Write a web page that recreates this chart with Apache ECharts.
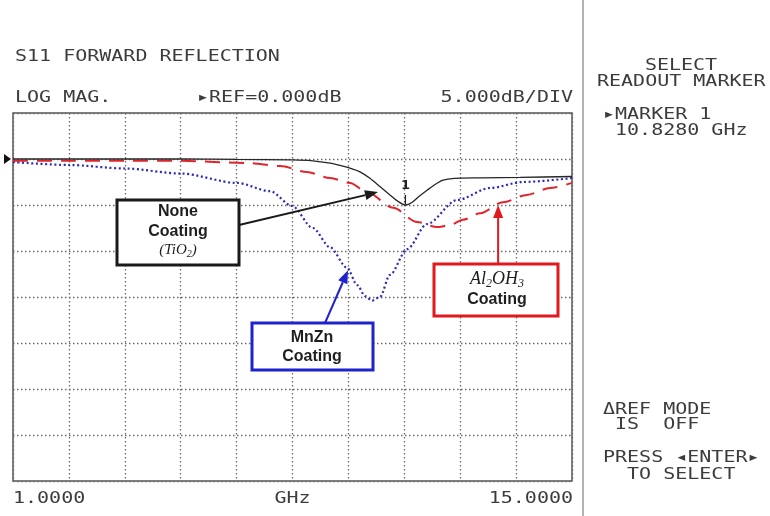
<!DOCTYPE html>
<html>
<head>
<meta charset="utf-8">
<script src="https://cdn.jsdelivr.net/npm/echarts@6/dist/echarts.min.js"></script>
<style>
  html, body { margin: 0; padding: 0; background: #fff; }
  #chart { width: 770px; height: 516px; }
</style>
</head>
<body>
<div id="chart"></div>
<script>
// S11 forward reflection, log magnitude, 5 dB/div, reference 0 dB
const startGHz = 1;
const stopGHz = 15;
const topDb = 5;
const bottomDb = -35;
const dbPerDiv = 5;
const refDb = 0;

// Uncoated sample (TiO2) - solid trace
const noneFreq = [1.0, 2.4, 3.8, 5.2, 6.6, 8.0, 8.51, 8.94, 9.19, 9.44, 9.69, 9.94, 10.19, 10.44, 10.64, 10.828, 11.0, 11.19, 11.37, 11.56, 11.77, 12.05, 12.7, 13.7, 15.0];
const noneDb   = [0, 0, 0, 0, -0.05, -0.1, -0.2, -0.45, -0.7, -1.0, -1.4, -2.1, -3.0, -3.9, -4.6, -5.0, -4.7, -4.0, -3.4, -2.8, -2.3, -2.1, -2.05, -2.0, -1.9];

// Al2OH3 coating - dashed trace
const alFreq = [1.0, 2.4, 3.8, 5.2, 6.86, 7.69, 8.36, 8.94, 9.44, 9.87, 10.52, 11.12, 11.62, 11.94, 12.27, 12.7, 13.27, 13.87, 14.45, 15.0];
const alDb   = [-0.2, -0.2, -0.2, -0.2, -0.43, -0.76, -1.41, -2.07, -2.6, -3.6, -5.3, -6.85, -7.4, -7.2, -6.6, -5.9, -4.7, -3.9, -3.15, -2.6];

// MnZn coating - dotted trace
const mnznFreq = [1.0, 2.4, 3.8, 5.2, 6.61, 7.44, 7.99, 8.51, 8.94, 9.37, 9.62, 9.82, 9.99, 10.19, 10.44, 10.87, 11.37, 12.12, 12.95, 13.77, 15.0];
const mnznDb   = [-0.33, -0.65, -1.03, -1.58, -2.6, -3.5, -5.1, -7.5, -9.6, -11.85, -13.7, -14.9, -15.4, -15.0, -12.6, -9.8, -7.07, -4.46, -3.15, -2.5, -2.07];

// Marker 1
const markerGHz = 10.828;
const markerDb = -5.0;

// Screen text
const titleText = 'S11 FORWARD REFLECTION';
const formatText = 'LOG MAG.';
const refText = '\u25B8REF=0.000dB';
const scaleText = '5.000dB/DIV';
const startLabel = '1.0000';
const unitLabel = 'GHz';
const stopLabel = '15.0000';
const menuLines = ['SELECT', 'READOUT MARKER'];
const markerLines = ['\u25B8MARKER 1', ' 10.8280 GHz'];
const modeLines = ['\u0394REF MODE', ' IS  OFF'];
const pressLines = ['PRESS \u25C2ENTER\u25B8', '  TO SELECT'];

const pairs = (xs, ys) => xs.map((x, i) => [x, ys[i]]);

const chart = echarts.init(document.getElementById('chart'), null, { renderer: 'canvas' });

const gridColor = '#6a6a6a';
const dotted = { color: gridColor, width: 1.3, type: [1.5, 2.5] };

chart.setOption({
  animation: false,
  backgroundColor: '#ffffff',
  grid: {
    left: 13, top: 113, right: 198, bottom: 35,
    show: true, borderColor: '#555', borderWidth: 1.5, backgroundColor: 'transparent'
  },
  xAxis: [
    {
      type: 'value', min: startGHz, max: stopGHz,
      axisLine: { show: false }, axisTick: { show: false },
      axisLabel: { show: false }, splitLine: { show: false }
    },
    {
      // division ruler for the vertical graticule
      type: 'value', min: 0, max: 10, interval: 1, position: 'top',
      axisLine: { show: false }, axisTick: { show: false },
      axisLabel: { show: false }, splitLine: { show: true, lineStyle: dotted }
    }
  ],
  yAxis: {
    type: 'value', min: bottomDb, max: topDb, interval: dbPerDiv,
    axisLine: { show: false }, axisTick: { show: false },
    axisLabel: { show: false }, splitLine: { show: true, lineStyle: dotted }
  },
  series: [
    {
      name: 'MnZn', type: 'line', xAxisIndex: 0, data: pairs(mnznFreq, mnznDb),
      showSymbol: false, smooth: 0.3, smoothMonotone: 'x',
      lineStyle: { color: '#2b2bb8', width: 2.2, type: [2, 2.6] }, z: 3
    },
    {
      name: 'Al2OH3', type: 'line', xAxisIndex: 0, data: pairs(alFreq, alDb),
      showSymbol: false, smooth: 0.3, smoothMonotone: 'x',
      lineStyle: { color: '#e2242a', width: 2, type: [15, 9] }, z: 4
    },
    {
      name: 'None', type: 'line', xAxisIndex: 0, data: pairs(noneFreq, noneDb),
      showSymbol: false, smooth: 0.25,
      lineStyle: { color: '#262626', width: 1.3 }, z: 5
    }
  ]
});

const px = (f, db) => chart.convertToPixel({ xAxisIndex: 0, yAxisIndex: 0 }, [f, db]);

// wide monospaced instrument lettering
const MONO_FONT = '16px "DejaVu Sans Mono"';
const MONO_SX = 1.25;
function mono(text, x, y, align) {
  return {
    type: 'text', x: x, y: y, scaleX: MONO_SX, z: 20,
    style: {
      text: text, font: MONO_FONT, fill: '#3c3c3c',
      align: align || 'left', textAlign: align || 'left',
      verticalAlign: 'middle', textVerticalAlign: 'middle'
    }
  };
}

function label(text, x, y, font, color) {
  return {
    type: 'text', x: x, y: y, z: 40,
    style: {
      text: text, font: font, fill: color || '#1e1e1e',
      align: 'center', textAlign: 'center',
      verticalAlign: 'middle', textVerticalAlign: 'middle'
    }
  };
}

// chemical formula with lowered subscripts, centred on cx
const measureCtx = document.createElement('canvas').getContext('2d');
function formula(parts, cx, cy, mainFont, subFont, subDrop) {
  const widths = parts.map(p => { measureCtx.font = p.sub ? subFont : mainFont; return measureCtx.measureText(p.t).width; });
  const total = widths.reduce((a, b) => a + b, 0);
  let x = cx - total / 2;
  return parts.map((p, i) => {
    const el = {
      type: 'text', x: x, y: cy + (p.sub ? subDrop : 0), z: 40,
      style: {
        text: p.t, font: p.sub ? subFont : mainFont, fill: '#1e1e1e',
        align: 'left', textAlign: 'left',
        verticalAlign: 'middle', textVerticalAlign: 'middle'
      }
    };
    x += widths[i];
    return el;
  });
}

function box(x, y, w, h, color) {
  return {
    type: 'rect', z: 30,
    shape: { x: x, y: y, width: w, height: h },
    style: { fill: '#ffffff', stroke: color, lineWidth: 3 }
  };
}

function arrow(from, to, color, width, headLen, headHalf) {
  const dx = to[0] - from[0], dy = to[1] - from[1];
  const len = Math.hypot(dx, dy);
  const ux = dx / len, uy = dy / len;
  const bx = to[0] - ux * headLen, by = to[1] - uy * headLen;
  const nx = -uy, ny = ux;
  return [
    {
      type: 'line', z: 35,
      shape: { x1: from[0], y1: from[1], x2: bx, y2: by },
      style: { stroke: color, lineWidth: width }
    },
    {
      type: 'polygon', z: 35,
      shape: { points: [[to[0], to[1]], [bx + nx * headHalf, by + ny * headHalf], [bx - nx * headHalf, by - ny * headHalf]] },
      style: { fill: color }
    }
  ];
}

const refY = px(startGHz, refDb)[1];
const plotLeft = px(startGHz, refDb)[0];
const plotRight = px(stopGHz, refDb)[0];
const mk = px(markerGHz, markerDb);

const boldFont = 'bold 16px "Liberation Sans"';
const black = '#1a1a1a', blue = '#1f23cc', red = '#e0191f';

const elements = [
  // header and footer lettering
  mono(titleText, 15, 57),
  mono(formatText, 15, 98),
  mono(refText, 197, 98),
  mono(scaleText, plotRight + 1, 98, 'right'),
  mono(startLabel, plotLeft, 499),
  mono(unitLabel, (plotLeft + plotRight) / 2, 499, 'center'),
  mono(stopLabel, plotRight + 1, 499, 'right'),

  // softkey panel
  mono(menuLines[0], 681, 66, 'center'),
  mono(menuLines[1], 597, 82),
  mono(markerLines[0], 603, 115),
  mono(markerLines[1], 603, 131),
  mono(modeLines[0], 603, 410),
  mono(modeLines[1], 603, 425),
  mono(pressLines[0], 603, 458),
  mono(pressLines[1], 603, 475),

  // panel divider
  {
    type: 'line', z: 10,
    shape: { x1: 583, y1: 0, x2: 583, y2: 516 },
    style: { stroke: '#9a9a9a', lineWidth: 1.5 }
  },

  // reference level pointer
  {
    type: 'polygon', z: 20,
    shape: { points: [[4, refY - 5], [4, refY + 5], [11, refY]] },
    style: { fill: '#111' }
  },

  // marker 1 flag
  label('1', mk[0], mk[1] - 19, 'bold 13px "DejaVu Sans"', '#222'),
  {
    type: 'line', z: 20,
    shape: { x1: mk[0], y1: mk[1] - 10, x2: mk[0], y2: mk[1] - 1 },
    style: { stroke: '#222', lineWidth: 1.3 }
  },

  // None Coating (TiO2)
  box(117, 200, 122, 65, black),
  label('None', 178, 212, boldFont),
  label('Coating', 178, 232, boldFont),
  ...formula([{ t: '(TiO' }, { t: '2', sub: true }, { t: ')' }], 178, 250,
    'italic 15px "Liberation Serif"', 'italic 10px "Liberation Serif"', 4),
  ...arrow([239, 225], px(10.14, -3.6), black, 2, 13, 5),

  // MnZn Coating
  box(252, 323, 121, 47, blue),
  label('MnZn', 312, 338, boldFont),
  label('Coating', 312, 357, boldFont),
  ...arrow([325, 323], px(9.39, -12.1), blue, 2, 13, 5),

  // Al2OH3 Coating
  box(434, 264, 124, 52, red),
  ...formula([{ t: 'Al' }, { t: '2', sub: true }, { t: 'OH' }, { t: '3', sub: true }], 497, 279,
    'italic 18px "Liberation Serif"', 'italic 12px "Liberation Serif"', 5),
  label('Coating', 497, 300, boldFont),
  ...arrow([px(13.15, -5.0)[0], 264], px(13.15, -5.0), red, 2, 13, 5)
];

chart.setOption({ graphic: { elements: elements } });
</script>
</body>
</html>
